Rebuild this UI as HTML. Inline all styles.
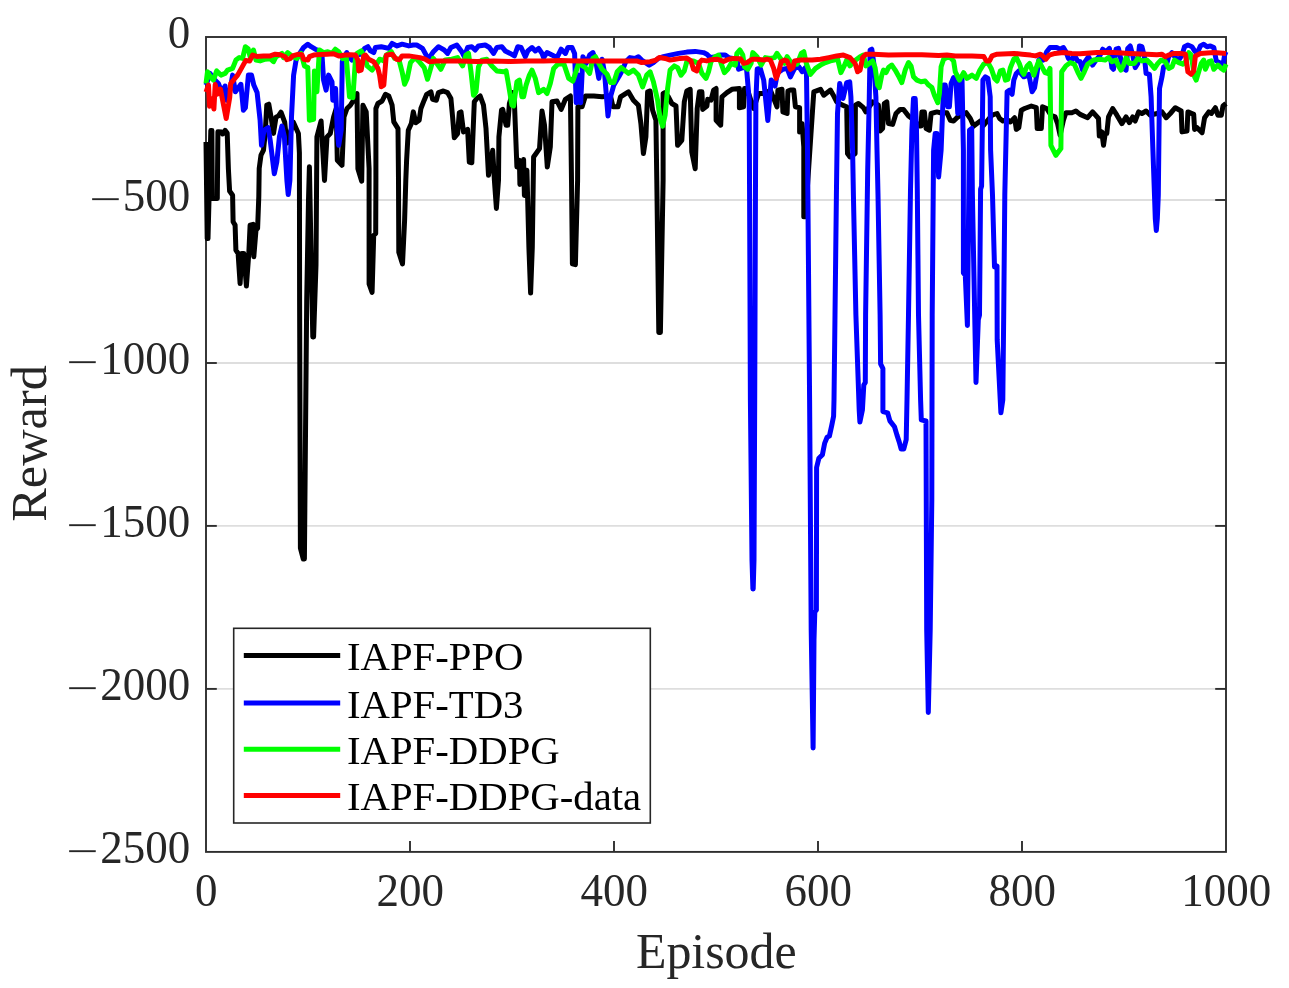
<!DOCTYPE html>
<html lang="en">
<head>
<meta charset="utf-8">
<title>Reward vs Episode</title>
<style>
html,body{margin:0;padding:0;background:#ffffff;}
body{width:1289px;height:988px;position:relative;overflow:hidden;font-family:"Liberation Serif", "DejaVu Serif", serif;}
svg text{white-space:pre;}
</style>
</head>
<body>
<svg width="1289" height="988" viewBox="0 0 1289 988" style="display:block;position:absolute;left:0;top:0">
<defs><clipPath id="ax"><rect x="203.0" y="37.0" width="1026.0" height="814.9"/></clipPath></defs>
<rect x="0" y="0" width="1289" height="988" fill="#ffffff"/>
<line x1="206.0" y1="200.0" x2="1226.0" y2="200.0" stroke="#dedede" stroke-width="1.9"/>
<line x1="206.0" y1="363.0" x2="1226.0" y2="363.0" stroke="#dedede" stroke-width="1.9"/>
<line x1="206.0" y1="525.9" x2="1226.0" y2="525.9" stroke="#dedede" stroke-width="1.9"/>
<line x1="206.0" y1="688.9" x2="1226.0" y2="688.9" stroke="#dedede" stroke-width="1.9"/>
<rect x="206.0" y="37.0" width="1020.0" height="814.9" fill="none" stroke="#2e2e2e" stroke-width="1.9"/>
<line x1="410.0" y1="851.9" x2="410.0" y2="841.1" stroke="#2e2e2e" stroke-width="1.9"/>
<line x1="410.0" y1="37.0" x2="410.0" y2="47.8" stroke="#2e2e2e" stroke-width="1.9"/>
<line x1="614.0" y1="851.9" x2="614.0" y2="841.1" stroke="#2e2e2e" stroke-width="1.9"/>
<line x1="614.0" y1="37.0" x2="614.0" y2="47.8" stroke="#2e2e2e" stroke-width="1.9"/>
<line x1="818.0" y1="851.9" x2="818.0" y2="841.1" stroke="#2e2e2e" stroke-width="1.9"/>
<line x1="818.0" y1="37.0" x2="818.0" y2="47.8" stroke="#2e2e2e" stroke-width="1.9"/>
<line x1="1022.0" y1="851.9" x2="1022.0" y2="841.1" stroke="#2e2e2e" stroke-width="1.9"/>
<line x1="1022.0" y1="37.0" x2="1022.0" y2="47.8" stroke="#2e2e2e" stroke-width="1.9"/>
<line x1="206.0" y1="200.0" x2="216.8" y2="200.0" stroke="#2e2e2e" stroke-width="1.9"/>
<line x1="1226.0" y1="200.0" x2="1215.2" y2="200.0" stroke="#2e2e2e" stroke-width="1.9"/>
<line x1="206.0" y1="363.0" x2="216.8" y2="363.0" stroke="#2e2e2e" stroke-width="1.9"/>
<line x1="1226.0" y1="363.0" x2="1215.2" y2="363.0" stroke="#2e2e2e" stroke-width="1.9"/>
<line x1="206.0" y1="525.9" x2="216.8" y2="525.9" stroke="#2e2e2e" stroke-width="1.9"/>
<line x1="1226.0" y1="525.9" x2="1215.2" y2="525.9" stroke="#2e2e2e" stroke-width="1.9"/>
<line x1="206.0" y1="688.9" x2="216.8" y2="688.9" stroke="#2e2e2e" stroke-width="1.9"/>
<line x1="1226.0" y1="688.9" x2="1215.2" y2="688.9" stroke="#2e2e2e" stroke-width="1.9"/>
<g clip-path="url(#ax)">
<polyline points="206.0,142.0 207.2,238.6 208.0,238.6 210.8,130.5 211.9,130.5 212.3,198.5 217.3,198.5 217.9,131.7 221.7,132.0 222.6,134.0 225.1,130.4 227.2,133.0 228.4,169.0 229.6,191.0 232.6,195.2 233.1,221.8 235.1,225.1 235.9,250.2 238.1,253.5 240.1,283.6 241.8,253.5 243.8,253.5 246.4,286.1 248.8,253.5 250.1,225.1 253.1,224.3 253.8,256.8 256.0,230.1 257.6,228.4 258.8,196.7 259.2,168.5 261.0,155.1 263.5,150.1 265.2,133.4 266.8,105.0 268.8,104.2 271.0,116.7 273.5,133.4 276.0,117.2 278.5,115.9 281.0,112.2 284.7,122.2 287.0,143.0 293.4,122.2 298.4,133.4 299.4,153.0 299.6,300.0 300.4,548.0 303.3,559.0 304.4,559.0 306.7,300.0 308.5,200.0 309.4,166.8 311.0,250.0 312.8,337.0 313.6,337.0 316.0,265.0 316.9,136.9 321.1,121.0 324.5,180.4 327.0,136.9 330.3,133.6 333.6,116.9 336.2,108.5 337.3,160.3 342.0,165.3 344.0,116.9 347.0,108.5 350.4,105.2 353.7,100.2 357.0,93.5 357.9,168.7 361.7,181.2 362.9,105.2 366.2,111.9 369.1,168.7 369.1,283.9 372.1,292.3 373.7,235.5 375.7,233.5 375.9,180.4 375.9,108.5 377.9,103.5 382.1,101.0 385.4,94.3 388.8,96.0 392.1,105.2 393.8,121.9 398.0,128.6 398.5,180.4 398.8,252.2 402.5,263.9 404.6,220.4 405.8,180.4 406.6,160.3 408.3,130.2 411.3,123.6 413.3,111.9 415.8,122.7 419.2,120.2 420.9,108.5 424.2,100.2 426.7,94.3 430.9,91.8 432.6,99.3 436.4,100.2 438.4,92.6 443.4,91.0 447.6,92.6 450.9,98.5 452.6,116.9 454.3,137.8 457.6,133.6 459.3,112.7 461.0,111.9 463.5,131.9 467.6,129.4 469.3,162.0 471.8,162.8 474.3,101.8 476.8,98.5 480.2,96.0 483.5,105.2 486.0,128.6 488.5,175.3 492.7,150.3 494.4,180.4 496.4,208.4 498.5,180.4 498.9,136.9 501.5,110.2 502.7,109.4 506.1,125.2 507.7,125.2 509.4,103.5 512.7,92.6 514.4,101.8 516.9,167.0 519.4,160.3 519.9,184.5 523.6,159.5 524.4,195.4 526.9,170.3 528.9,247.2 530.6,293.1 532.3,247.2 533.6,157.0 539.5,148.6 542.0,111.0 544.5,125.2 547.3,167.0 550.3,146.9 552.0,101.8 557.0,101.0 561.2,109.4 565.4,99.3 570.4,96.0 571.5,180.4 572.4,263.9 575.4,264.7 577.6,180.4 577.9,106.8 582.1,106.8 585.4,96.0 593.8,96.0 602.1,96.8 610.5,96.0 613.0,106.8 618.0,106.8 620.5,96.8 628.4,91.8 633.4,100.2 638.4,105.2 640.9,123.6 643.4,153.6 645.9,136.9 647.6,91.8 650.1,91.0 652.6,110.2 655.9,120.2 656.8,180.4 658.8,332.4 660.4,332.4 663.1,180.4 663.1,93.5 665.1,92.6 668.4,96.8 671.8,103.5 676.0,106.0 677.6,145.3 681.8,140.3 684.3,101.8 686.8,91.0 690.2,89.3 691.8,152.0 695.2,168.7 697.2,108.5 699.4,91.8 701.9,91.8 702.7,109.4 706.9,106.0 707.7,99.3 711.0,100.2 713.6,90.1 716.1,88.5 716.1,120.2 720.7,125.2 721.9,96.8 726.9,92.6 731.9,89.3 739.4,88.5 739.4,107.7 743.6,106.8 744.5,88.5 747.0,88.5 753.6,108.5 758.7,93.5 765.3,93.5 770.4,90.1 777.0,106.8 777.9,90.1 782.0,89.3 782.9,111.9 787.1,113.5 787.9,91.0 790.4,90.1 793.7,90.1 795.4,106.8 799.6,107.7 799.6,131.9 802.1,123.6 803.8,146.9 803.8,216.8 805.4,216.8 812.1,116.9 813.8,91.8 820.5,89.3 823.8,95.2 830.5,90.1 833.3,95.2 836.7,101.8 842.5,105.2 846.7,106.8 847.5,153.6 850.0,157.0 855.1,153.6 855.4,105.2 858.4,103.5 863.4,107.7 865.9,111.9 872.6,101.8 878.4,105.2 880.1,131.1 882.6,128.6 884.3,103.5 886.8,101.8 888.5,123.6 892.6,124.4 896.0,113.5 900.2,109.4 903.5,109.4 908.5,116.0 911.9,118.5 919.4,126.1 921.0,126.1 921.9,111.9 924.4,111.9 926.1,128.6 929.4,130.2 931.1,113.5 936.9,111.9 940.3,112.7 946.9,112.7 950.3,120.2 953.6,121.0 957.8,116.9 966.2,112.7 970.3,118.5 973.7,126.1 977.0,123.6 980.4,121.0 983.7,125.2 987.9,120.2 992.0,115.2 997.1,113.5 999.6,118.5 1002.9,121.0 1007.1,119.4 1010.4,121.9 1014.6,117.7 1016.3,129.4 1018.8,127.7 1021.3,110.2 1024.6,108.5 1031.3,106.0 1036.3,107.7 1037.2,128.6 1041.3,128.6 1042.5,106.8 1046.7,108.5 1050.9,115.2 1055.1,116.9 1057.6,123.6 1060.1,135.2 1063.4,120.2 1065.9,112.7 1071.8,112.7 1075.9,111.0 1080.1,114.4 1087.6,117.7 1092.6,111.9 1098.5,118.5 1099.3,136.1 1101.8,131.9 1103.5,145.3 1105.2,133.6 1106.8,133.6 1108.5,116.9 1112.7,108.5 1116.9,115.2 1121.9,123.6 1126.1,116.9 1129.4,122.7 1132.7,116.9 1135.2,121.0 1138.6,111.9 1141.9,113.5 1146.1,111.0 1150.3,115.2 1157.0,113.5 1162.0,111.9 1166.2,117.7 1170.3,113.5 1175.3,107.7 1181.2,111.0 1182.0,131.9 1187.0,131.1 1187.9,111.9 1193.7,114.4 1194.6,129.4 1197.1,127.7 1202.1,132.7 1204.6,117.7 1208.8,111.9 1211.3,113.5 1215.4,107.7 1217.9,115.2 1221.3,115.2 1223.0,106.0 1226.0,103.5" fill="none" stroke="#000000" stroke-width="5.0" stroke-linejoin="round" stroke-linecap="butt"/>
<polyline points="206.0,85.1 210.0,73.4 213.4,78.4 218.4,83.5 221.7,91.8 225.1,86.0 226.7,100.2 229.2,95.2 232.6,75.1 235.4,91.8 240.9,84.3 243.4,110.2 245.4,107.7 248.4,75.1 251.5,75.1 253.8,85.1 257.1,92.6 260.1,120.2 261.5,145.3 264.0,130.2 268.2,127.7 270.2,140.3 274.3,173.7 276.8,162.0 279.4,136.9 281.9,126.1 284.4,136.9 286.9,180.4 288.2,194.6 289.9,180.4 291.5,116.9 293.6,75.1 296.1,60.1 300.2,52.6 303.6,47.5 307.8,44.2 311.1,46.7 315.3,49.2 319.4,50.9 322.0,55.1 323.6,80.1 326.1,90.1 328.6,75.1 332.0,81.8 332.8,100.2 335.6,88.5 337.3,130.2 338.7,145.3 341.2,130.2 342.3,61.7 346.7,52.6 350.0,57.6 352.0,60.1 355.4,55.1 360.4,54.2 364.6,48.4 367.9,46.7 370.4,50.9 373.7,52.6 375.4,47.5 381.3,46.7 388.8,48.4 392.1,43.4 397.1,45.9 402.1,44.2 408.8,45.9 413.3,45.0 416.7,45.0 422.5,48.4 428.4,59.2 433.4,51.7 438.4,46.7 444.2,50.0 447.6,53.4 450.9,47.5 456.8,45.0 461.8,51.7 464.3,56.7 467.6,47.5 471.8,46.7 475.2,50.0 478.5,45.9 485.2,45.0 489.4,47.5 493.5,53.4 496.9,47.5 501.9,46.7 505.2,50.9 510.2,53.4 514.4,55.9 517.8,46.7 521.1,47.5 525.3,56.7 527.8,50.9 532.0,47.5 535.3,50.9 538.6,48.4 542.0,53.4 543.6,57.6 547.0,52.6 552.0,55.1 557.0,57.6 561.2,49.2 565.4,53.4 567.9,47.5 572.0,47.5 574.6,53.4 576.2,102.7 578.4,75.1 580.7,102.7 582.9,56.7 586.2,63.4 589.6,55.1 592.9,52.6 595.4,59.2 598.8,78.4 602.1,59.2 604.6,73.4 608.0,116.0 610.5,96.8 613.8,85.1 618.8,76.8 622.5,70.1 625.8,61.7 630.0,57.6 635.0,58.4 638.4,56.7 641.7,60.1 649.2,65.1 653.4,62.6 658.4,58.4 663.4,56.7 670.1,55.1 678.5,53.4 686.8,52.1 695.2,51.4 703.5,52.6 706.9,54.2 710.2,57.6 716.9,56.7 720.2,55.1 725.2,55.1 728.6,57.6 736.9,59.2 738.6,69.3 742.8,67.6 746.5,68.0 749.2,100.0 749.6,200.0 750.4,400.0 752.0,560.0 752.9,589.0 753.2,589.0 754.0,560.0 754.7,400.0 755.5,180.0 755.9,100.0 757.2,69.0 760.3,68.4 763.7,80.1 767.8,120.5 771.2,80.0 775.0,86.0 777.5,73.0 782.9,69.2 787.1,68.4 790.4,76.8 794.6,68.4 798.8,66.7 802.1,71.7 805.4,67.6 806.5,75.0 807.5,150.0 809.6,400.0 811.2,630.0 813.1,748.0 814.0,640.0 814.8,612.0 816.4,610.0 816.6,467.5 818.9,458.2 822.4,454.7 824.7,443.1 827.1,437.2 829.4,436.1 831.7,425.6 833.6,416.3 834.0,400.0 835.0,315.0 836.4,195.0 837.5,113.5 839.7,83.4 843.0,98.5 846.7,82.6 849.7,81.8 850.9,96.8 852.6,150.0 853.4,195.0 855.9,315.0 859.2,410.0 859.9,422.0 862.4,410.0 863.8,385.0 865.3,382.5 865.6,315.0 867.7,170.0 869.3,96.8 870.1,50.0 871.8,49.2 873.8,63.4 875.9,96.8 877.0,150.0 878.0,195.0 880.1,315.0 880.6,363.8 882.9,368.5 882.9,411.6 887.6,412.8 889.9,420.9 894.5,426.8 896.9,434.9 899.2,441.9 901.1,448.9 903.8,448.9 906.2,439.6 907.0,400.0 908.5,315.0 910.5,190.0 911.9,130.2 913.5,98.5 915.2,98.5 916.5,130.2 917.3,190.0 918.5,315.0 920.6,400.0 921.3,419.8 926.0,421.0 926.7,630.0 928.3,712.4 930.2,630.0 931.8,500.0 932.2,315.0 933.2,195.0 933.6,150.2 935.2,133.5 936.9,133.5 938.6,177.0 941.1,150.2 943.6,85.1 945.3,85.1 947.8,106.8 949.4,106.8 951.1,83.4 953.6,77.6 956.1,85.1 957.8,113.5 959.5,80.1 962.0,78.4 963.4,150.0 963.4,273.0 965.3,275.3 967.4,325.5 968.2,250.0 969.5,130.2 971.7,128.5 972.4,195.0 976.0,382.5 978.3,319.6 979.5,315.0 980.6,189.3 981.6,186.0 982.9,80.1 985.4,76.8 987.9,78.4 990.2,96.8 990.6,150.0 992.5,195.0 994.5,267.0 997.0,266.0 997.2,340.0 1000.9,412.8 1002.8,400.0 1003.7,315.0 1004.8,195.0 1007.1,91.8 1009.6,90.1 1012.1,94.3 1013.8,80.1 1016.3,73.4 1018.8,70.9 1023.8,76.8 1026.3,75.9 1028.8,74.3 1032.1,91.8 1034.6,87.6 1037.2,71.8 1038.8,60.1 1042.2,57.6 1043.4,60.1 1046.7,51.7 1050.0,47.5 1056.7,47.5 1060.1,49.2 1063.4,47.5 1065.9,51.7 1068.4,58.4 1071.8,60.1 1074.3,55.1 1077.6,60.9 1080.1,61.7 1082.6,70.1 1085.1,61.7 1088.5,56.7 1092.6,65.1 1096.0,60.1 1100.2,55.1 1102.7,49.2 1106.0,51.7 1109.4,48.4 1111.9,67.6 1113.5,69.3 1116.0,49.2 1118.5,48.4 1121.0,60.1 1123.6,68.4 1126.1,70.1 1127.7,48.4 1130.2,45.9 1132.7,55.1 1135.2,67.6 1137.8,63.4 1139.4,45.9 1141.9,46.7 1144.4,56.7 1146.1,73.4 1149.4,74.3 1151.1,96.8 1152.8,146.9 1154.5,195.1 1155.3,218.8 1156.3,230.5 1157.3,218.8 1158.3,195.1 1159.5,88.5 1162.0,76.8 1163.6,66.8 1166.2,65.9 1168.7,56.7 1172.0,52.6 1175.3,57.6 1178.7,60.1 1182.0,55.1 1184.5,46.7 1187.9,45.0 1192.0,46.7 1194.6,50.9 1197.1,53.4 1200.4,45.9 1203.7,44.2 1207.1,46.7 1210.4,45.9 1213.8,47.5 1216.3,60.9 1219.6,62.6 1223.0,65.1 1224.6,55.1 1226.0,51.7" fill="none" stroke="#0000ff" stroke-width="5.0" stroke-linejoin="round" stroke-linecap="butt"/>
<polyline points="206.0,83.5 207.5,71.8 210.9,77.6 213.4,80.1 216.7,70.9 220.9,75.1 225.1,73.4 227.6,70.1 232.6,68.4 235.9,60.1 239.3,57.6 242.6,58.4 245.4,46.7 248.1,48.7 250.1,56.7 253.5,50.0 256.0,60.1 260.1,60.9 265.2,59.2 270.2,58.7 273.5,61.7 276.0,56.7 281.9,53.4 283.5,57.6 287.7,52.6 292.7,56.7 296.9,58.4 301.1,53.4 304.4,65.9 307.8,67.6 309.4,120.2 313.6,119.4 314.4,70.9 316.9,91.8 319.4,50.0 323.6,52.6 327.8,51.7 332.0,53.4 335.3,49.2 338.7,51.7 342.8,58.7 346.2,56.7 349.5,96.8 352.9,97.7 355.4,60.1 357.0,53.4 361.2,50.9 364.6,56.7 367.1,65.9 372.1,70.1 377.1,63.4 379.6,59.2 382.1,60.1 383.8,60.9 386.3,55.1 391.3,51.7 394.6,58.4 398.8,59.2 402.1,71.8 404.6,84.3 407.2,78.4 410.5,62.6 415.0,57.6 420.0,62.6 424.2,67.6 427.5,79.3 430.9,67.6 433.4,58.4 436.7,63.4 440.9,69.3 445.1,60.1 451.8,59.2 457.6,57.6 462.6,65.9 466.0,55.1 468.5,53.4 471.0,71.8 473.5,95.2 476.0,91.8 478.5,66.8 481.8,60.1 486.8,59.2 491.9,65.9 496.9,70.9 503.6,71.8 506.1,70.9 508.6,85.1 511.9,105.2 513.6,106.0 516.9,81.8 519.4,80.1 521.9,96.8 523.6,96.8 526.1,85.1 529.4,75.1 532.0,70.1 535.3,78.4 538.6,92.6 543.6,89.3 547.0,93.5 550.3,83.5 553.7,68.4 557.8,64.2 563.7,63.4 568.7,78.4 572.9,81.0 575.4,73.4 578.7,63.4 585.4,67.6 589.6,73.4 592.9,58.4 595.4,56.7 598.8,63.4 602.1,69.3 607.1,74.3 610.5,82.6 613.8,82.6 617.2,71.8 621.3,67.6 623.3,69.3 628.4,73.4 633.4,70.1 638.4,75.1 642.6,86.8 646.7,75.1 650.1,71.8 653.4,81.8 657.6,100.2 660.1,118.5 662.6,126.1 665.1,115.2 667.6,88.5 670.1,70.1 674.3,65.9 677.6,67.6 681.0,75.1 684.3,70.9 686.8,61.7 690.2,60.9 693.5,60.9 698.5,63.4 701.9,73.4 706.0,78.4 708.5,71.8 711.0,61.7 715.2,56.7 718.6,55.1 721.1,63.4 724.4,72.6 727.8,69.3 731.1,63.4 735.3,65.1 736.9,53.4 739.9,50.0 742.8,55.1 744.5,66.8 747.8,69.3 751.1,63.4 752.8,52.6 757.0,56.7 761.2,65.1 765.3,57.6 770.4,58.4 774.5,57.6 777.0,53.4 780.4,58.4 784.6,63.4 787.1,56.7 790.4,61.7 793.7,63.4 797.1,64.2 801.3,53.4 803.8,51.7 806.3,63.4 810.4,74.3 815.5,68.4 820.5,65.1 825.5,62.6 830.5,60.9 834.2,60.1 837.5,58.4 840.9,72.6 844.2,65.9 846.7,60.1 850.0,65.9 853.4,61.7 860.1,56.7 863.4,55.1 865.9,65.9 869.3,63.4 872.6,60.9 875.1,67.6 877.6,85.1 879.3,87.6 881.8,75.1 883.5,70.1 886.0,72.6 888.5,67.6 891.8,65.1 895.2,70.1 898.5,75.9 901.8,82.6 905.2,70.1 908.5,62.6 911.0,65.9 913.5,76.8 916.9,80.1 921.0,81.8 925.2,81.0 928.6,85.1 931.9,87.6 934.4,95.2 937.8,102.7 939.4,93.5 941.1,66.8 943.6,59.2 946.9,57.6 950.3,57.6 953.6,60.9 955.3,71.8 959.5,80.1 963.6,72.6 967.0,78.4 972.0,75.1 976.2,78.4 979.5,70.9 983.7,64.2 987.9,62.6 991.2,68.4 994.6,78.4 997.1,81.0 1000.4,70.9 1002.9,70.1 1005.4,80.1 1007.9,79.3 1010.4,67.6 1013.8,59.2 1016.3,57.6 1019.6,64.2 1022.1,71.8 1023.8,74.3 1027.1,65.9 1029.6,63.4 1033.8,75.1 1036.3,67.6 1038.8,60.9 1045.0,72.6 1047.5,73.4 1050.0,68.4 1050.9,145.3 1055.9,155.3 1060.9,148.6 1061.7,71.8 1065.9,65.9 1070.1,62.6 1074.3,64.2 1078.4,73.4 1081.0,78.4 1084.3,71.8 1087.6,64.2 1093.5,60.1 1100.2,59.2 1105.2,60.1 1108.5,57.6 1111.9,61.7 1116.0,60.1 1118.5,65.9 1121.0,70.1 1123.6,65.1 1126.1,57.6 1129.4,63.4 1134.4,63.4 1137.8,58.4 1141.9,60.9 1146.9,60.1 1150.3,63.4 1154.5,68.4 1157.8,63.4 1161.1,60.1 1165.3,61.7 1168.7,68.4 1172.0,66.8 1174.5,60.1 1178.7,62.6 1182.9,64.2 1186.2,60.9 1188.7,52.6 1191.2,55.1 1194.6,76.8 1196.2,80.1 1198.7,71.8 1201.2,63.4 1203.7,60.1 1205.4,69.3 1208.8,61.7 1211.3,60.9 1213.8,69.3 1217.9,65.1 1221.3,68.4 1223.8,70.1 1226.0,64.2" fill="none" stroke="#00ff00" stroke-width="5.0" stroke-linejoin="round" stroke-linecap="butt"/>
<polyline points="206.0,92.1 208.5,85.1 209.5,106.3 211.4,98.7 213.9,109.0 215.2,84.6 217.5,94.1 220.4,89.1 226.2,118.5 229.7,97.7 230.7,83.3 234.2,79.3 237.6,75.1 241.8,67.6 245.8,60.4 249.6,61.1 252.6,55.1 256.8,56.4 263.5,55.9 270.2,55.9 275.2,54.2 280.2,54.7 285.2,56.7 286.9,59.7 290.2,58.7 292.7,55.9 298.6,54.2 301.9,54.7 303.6,59.2 307.8,60.1 309.4,56.7 313.6,55.1 320.3,54.6 327.0,54.2 333.6,53.7 338.7,55.9 345.3,55.1 350.4,54.7 355.4,55.1 357.9,60.1 358.7,70.9 361.2,70.1 363.7,55.9 365.4,55.1 368.7,59.2 373.7,61.7 377.9,68.4 379.6,75.1 381.3,86.8 383.8,85.1 386.3,55.1 392.1,54.2 396.3,59.2 399.6,59.7 402.1,55.9 408.8,55.9 420.0,57.6 425.0,59.2 429.2,61.7 436.7,60.9 460.1,60.9 476.8,61.4 493.5,60.9 510.2,61.4 526.9,60.9 543.6,60.9 560.4,60.6 577.1,60.9 593.8,60.9 630.0,60.9 636.7,60.9 641.7,62.6 650.1,61.7 655.9,60.1 659.3,57.6 665.1,58.4 670.1,60.1 675.1,59.2 680.1,58.4 686.8,58.1 691.0,60.9 693.5,69.3 696.8,70.9 699.4,62.6 701.9,60.1 706.9,60.9 711.0,59.7 716.9,59.2 723.6,61.4 728.6,59.2 733.6,58.4 740.3,58.7 743.6,63.4 747.0,62.6 752.0,59.2 757.0,59.2 763.7,60.1 767.0,59.2 770.4,60.1 773.7,68.4 776.2,78.4 778.7,71.8 781.2,61.7 784.6,60.1 787.1,60.9 790.4,69.3 792.9,67.6 794.6,60.9 800.4,60.1 812.1,60.1 820.5,59.2 828.8,57.6 836.7,55.9 843.4,55.1 850.0,57.6 855.1,63.4 857.6,71.8 860.1,70.1 862.6,57.6 865.9,54.2 873.4,54.2 888.5,55.1 905.2,54.7 921.9,54.7 938.6,55.4 946.9,55.1 955.3,55.9 972.0,55.9 983.7,56.4 986.2,60.9 989.5,60.9 992.0,55.9 997.1,54.2 1013.8,53.4 1022.1,54.2 1030.5,55.1 1035.5,55.9 1040.5,54.2 1043.4,56.7 1045.9,59.2 1049.2,55.1 1055.1,53.4 1063.4,52.6 1071.8,53.4 1080.1,53.7 1096.8,52.6 1113.5,52.6 1130.2,53.4 1146.9,54.2 1157.0,54.7 1162.0,54.2 1165.3,56.7 1168.7,55.1 1173.7,53.4 1180.4,53.4 1185.4,54.2 1187.9,71.8 1191.2,74.3 1193.7,70.9 1195.4,55.9 1200.4,53.4 1213.8,52.6 1226.0,53.4" fill="none" stroke="#ff0000" stroke-width="5.0" stroke-linejoin="round" stroke-linecap="butt"/>
</g>
<g font-family='"Liberation Serif", "DejaVu Serif", serif' font-size="46" fill="#262626">
<text transform="translate(206.2,906.3) scale(0.978,1)" text-anchor="middle">0</text>
<text transform="translate(410.2,906.3) scale(0.978,1)" text-anchor="middle">200</text>
<text transform="translate(614.2,906.3) scale(0.978,1)" text-anchor="middle">400</text>
<text transform="translate(818.2,906.3) scale(0.978,1)" text-anchor="middle">600</text>
<text transform="translate(1022.2,906.3) scale(0.978,1)" text-anchor="middle">800</text>
<text transform="translate(1226.2,906.3) scale(0.978,1)" text-anchor="middle">1000</text>
<text transform="translate(190.3,47.9) scale(0.978,1)" text-anchor="end">0</text>
<text transform="translate(190.3,210.9) scale(0.978,1)" text-anchor="end">500</text>
<text transform="translate(89.15,211.88) scale(1.505,1)" font-size="38">−</text>
<text transform="translate(190.3,373.9) scale(0.978,1)" text-anchor="end">1000</text>
<text transform="translate(66.35,374.86) scale(1.505,1)" font-size="38">−</text>
<text transform="translate(190.3,536.8) scale(0.978,1)" text-anchor="end">1500</text>
<text transform="translate(66.35,537.84) scale(1.505,1)" font-size="38">−</text>
<text transform="translate(190.3,699.8) scale(0.978,1)" text-anchor="end">2000</text>
<text transform="translate(66.35,700.82) scale(1.505,1)" font-size="38">−</text>
<text transform="translate(190.3,862.8) scale(0.978,1)" text-anchor="end">2500</text>
<text transform="translate(66.35,863.80) scale(1.505,1)" font-size="38">−</text>
</g>
<text x="716.3" y="967.8" text-anchor="middle" font-family='"Liberation Serif", "DejaVu Serif", serif' font-size="49.9" fill="#262626">Episode</text>
<text transform="translate(45.6,443.4) rotate(-90)" text-anchor="middle" font-family='"Liberation Serif", "DejaVu Serif", serif' font-size="50.4" fill="#262626">Reward</text>
<rect x="233.7" y="628.3" width="416.6" height="194.7" fill="#ffffff" stroke="#262626" stroke-width="1.6"/>
<line x1="243.8" y1="655.4" x2="340.2" y2="655.4" stroke="#000000" stroke-width="5.0"/>
<text x="346.9" y="670.2" font-family='"Liberation Serif", "DejaVu Serif", serif' font-size="40.75" fill="#000000">IAPF-PPO</text>
<line x1="243.8" y1="703.0" x2="340.2" y2="703.0" stroke="#0000ff" stroke-width="5.0"/>
<text x="346.9" y="717.8" font-family='"Liberation Serif", "DejaVu Serif", serif' font-size="40.75" fill="#000000">IAPF-TD3</text>
<line x1="243.8" y1="749.3" x2="340.2" y2="749.3" stroke="#00ff00" stroke-width="5.0"/>
<text x="346.9" y="764.1" font-family='"Liberation Serif", "DejaVu Serif", serif' font-size="40.75" fill="#000000">IAPF-DDPG</text>
<line x1="243.8" y1="795.5" x2="340.2" y2="795.5" stroke="#ff0000" stroke-width="5.0"/>
<text x="346.9" y="810.3" font-family='"Liberation Serif", "DejaVu Serif", serif' font-size="40.75" fill="#000000">IAPF-DDPG-data</text>
</svg>
</body>
</html>
